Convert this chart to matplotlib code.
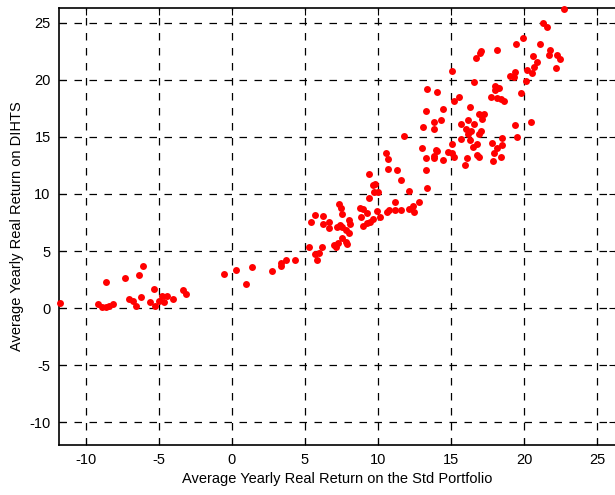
import numpy as np
import matplotlib
matplotlib.use('Agg')
import matplotlib.pyplot as plt

# points (std portfolio return, DIHTS return)
x_std = [-11.8, -9.16, -8.93, -8.63, -8.4, -8.15, -8.63, -7.3, -7.03, -6.76,
         -6.6, -6.23, -6.35, -6.07, -5.62, -5.36, -5.27, -5.0, -4.77, -4.68,
         -4.47, -4.06, -3.36, -3.17, -0.53, 0.25, 0.96, 1.39, 2.72, 3.33,
         3.33, 3.68, 4.29, 5.25, 5.68, 5.8, 5.96, 6.19, 5.43, 5.68,
         6.21, 6.23, 6.64, 6.67, 6.96, 7.1, 7.28, 7.17, 7.4, 7.35,
         7.45, 7.55, 7.55, 7.55, 7.8, 7.85, 7.8, 8.0, 8.1, 8.04,
         8.77, 8.95, 8.84, 9.27, 9.0, 9.22, 9.45, 9.64, 9.4, 9.38,
         9.68, 9.8, 9.73, 10.02, 9.95, 10.14, 10.6, 10.73, 10.53, 10.71,
         10.71, 11.32, 11.58, 11.16, 11.16, 11.58, 12.12, 12.12, 12.37, 12.45,
         12.83, 11.78, 12.99, 13.26, 13.26, 13.33, 13.1, 13.26, 13.84, 13.86,
         13.95, 13.86, 22.74, 21.32, 21.6, 19.93, 19.47, 21.07, 21.78, 21.69,
         22.24, 22.47, 22.19, 20.62, 20.87, 20.71, 20.55, 20.18, 20.12, 19.77,
         19.4, 19.34, 19.04, 18.17, 17.05, 16.99, 16.71, 15.09, 16.58, 13.33,
         14.04, 18.01, 18.13, 18.27, 18.01, 17.74, 18.13, 18.4, 18.63, 15.55,
         15.18, 14.47, 16.3, 14.32, 16.94, 17.28, 17.12, 16.14, 15.71, 16.03,
         16.37, 16.6, 17.03, 16.94, 16.19, 19.4, 20.45, 19.5, 13.86, 14.02,
         14.47, 15.09, 14.82, 15.09, 15.21, 15.71, 16.07, 15.98, 16.32, 16.51,
         16.78, 16.76, 16.94, 17.83, 18.17, 18.51, 18.51, 17.97, 18.45, 17.9]
y_dihts = [0.44, 0.32, 0.06, 0.09, 0.2, 0.32, 2.25, 2.66, 0.76, 0.64,
           0.18, 0.99, 2.89, 3.68, 0.55, 1.67, 0.18, 0.64, 1.05, 0.53,
           1.05, 0.76, 1.55, 1.2, 3.0, 3.33, 2.1, 3.57, 3.22, 3.68,
           3.92, 4.21, 4.24, 5.35, 4.74, 4.24, 4.8, 5.32, 7.52, 8.16,
           8.04, 7.37, 7.52, 7.05, 5.53, 5.38, 5.67, 7.08, 7.28, 9.1,
           8.75, 8.25, 7.13, 6.17, 5.82, 5.58, 6.84, 7.72, 7.34, 6.55,
           8.75, 8.68, 7.95, 8.36, 7.22, 7.43, 7.57, 7.78, 9.62, 11.75,
           10.82, 10.88, 10.2, 10.2, 8.5, 8.0, 8.39, 8.6, 13.57, 13.07,
           12.19, 12.1, 11.2, 9.27, 8.6, 8.6, 10.29, 8.68, 8.97, 8.45,
           9.27, 15.11, 14.0, 13.13, 12.1, 10.55, 15.9, 17.3, 16.35, 15.68,
           13.86, 13.13, 26.23, 25.03, 24.68, 23.65, 23.13, 23.13, 22.63, 22.19,
           22.19, 21.84, 21.08, 22.1, 21.6, 21.17, 20.64, 20.88, 19.94, 18.83,
           20.73, 20.29, 20.38, 22.63, 22.57, 22.34, 21.96, 20.82, 19.85, 19.18,
           18.97, 19.47, 19.27, 19.27, 19.12, 18.48, 18.39, 18.33, 18.16, 18.48,
           18.16, 17.46, 17.66, 16.49, 17.02, 17.02, 16.58, 16.49, 16.14, 15.7,
           15.55, 16.14, 15.55, 15.23, 15.26, 16.02, 16.35, 15.03, 13.33, 13.8,
           12.98, 14.36, 13.68, 13.57, 13.27, 14.8, 13.13, 12.54, 14.71, 14.15,
           14.39, 13.42, 13.27, 14.45, 14.0, 14.88, 14.3, 13.57, 13.27, 12.89]

x_ticks = [-10, -5, 0, 5, 10, 15, 20, 25]
y_ticks = [-10, -5, 0, 5, 10, 15, 20, 25]

plt.rcParams['font.family'] = ['Liberation Sans', 'DejaVu Sans']
plt.rcParams['axes.unicode_minus'] = False  # plain hyphen like the original

fig = plt.figure(figsize=(6.15, 4.95), dpi=100)
ax = fig.add_axes([0.0959, 0.101, 0.9057, 0.8828])

ax.plot(x_std, y_dihts, 'o', color='red', markersize=5, markeredgewidth=0, clip_on=False, zorder=3)

ax.set_xlim(-11.85, 26.3)
ax.set_ylim(-12.0, 26.3)
ax.set_xticks(x_ticks)
ax.set_yticks(y_ticks)
ax.grid(True, color='black', linestyle=(0, (6, 6)), linewidth=0.9)
ax.tick_params(direction='in', top=True, right=True, labelsize=10.5, length=5, pad=6)
for s in ax.spines.values():
    s.set_linewidth(1.2)

ax.set_xlabel('Average Yearly Real Return on the Std Portfolio', fontsize=10.5, labelpad=3)
ax.set_ylabel('Average Yearly Real Return on DIHTS', fontsize=10.5, labelpad=4)

fig.savefig('out.png', dpi=100)
